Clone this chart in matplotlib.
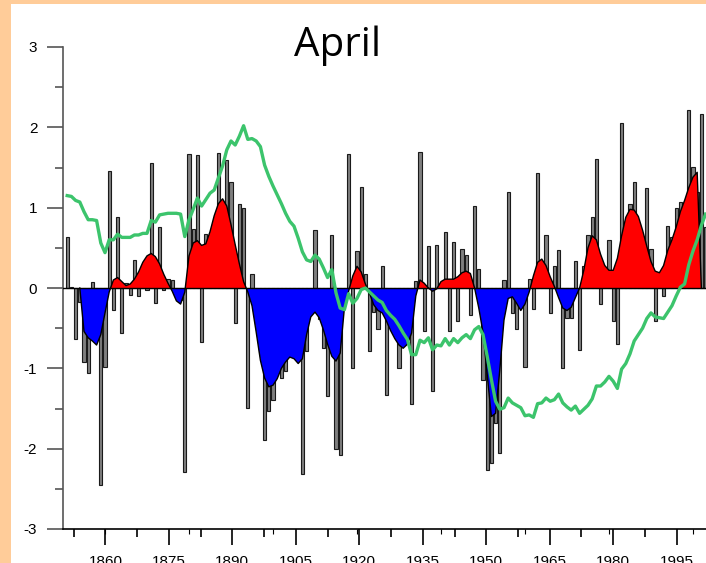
import matplotlib
matplotlib.use("Agg")
import matplotlib.pyplot as plt
from matplotlib.patches import Rectangle
from matplotlib.ticker import MultipleLocator, FixedLocator
import numpy as np

plt.rcParams['font.family'] = ['Liberation Sans', 'DejaVu Sans']
plt.rcParams['axes.unicode_minus'] = False

# --- April anomalies, one bar per year (1851-2003) ---
bar_years = np.arange(1851, 2004)
anomaly = [
    0.63, 0.01, -0.63, -0.17, -0.92, -1.06, 0.07, -0.45, -2.45, -0.98,   # 1851-1860
    1.46, -0.27, 0.88, -0.56, 0.06, -0.09, 0.35, -0.10, 0.20, -0.03,     # 1861-1870
    1.56, -0.19, 0.76, -0.03, 0.11, 0.10, -0.10, -0.15, -2.29, 1.67,     # 1871-1880
    0.73, 1.66, -0.67, 0.67, 0.40, 0.50, 1.68, 0.95, 1.59, 1.32,         # 1881-1890
    -0.44, 1.04, 1.00, -1.49, 0.17, -0.35, -0.80, -1.89, -1.53, -1.40,   # 1891-1900
    -1.00, -1.12, -1.03, -0.60, -0.85, -0.50, -2.31, -0.78, -0.30, 0.72, # 1901-1910
    -0.38, -0.75, -1.35, 0.66, -2.01, -2.08, -0.15, 1.67, -0.99, 0.46,   # 1911-1920
    1.26, 0.17, -0.78, -0.30, -0.51, 0.28, -1.33, -0.40, -0.50, -1.00,   # 1921-1930
    -0.55, -0.35, -1.44, 0.09, 1.69, -0.53, 0.52, -1.28, 0.53, 0.05,     # 1931-1940
    0.70, -0.54, 0.57, -0.41, 0.49, 0.41, -0.34, 1.02, 0.24, -1.15,      # 1941-1950
    -2.27, -2.18, -1.68, -2.06, 0.10, 1.20, -0.31, -0.51, -0.15, -0.98,  # 1951-1960
    0.11, -0.26, 1.43, 0.25, 0.66, -0.31, 0.28, 0.47, -0.99, -0.37,      # 1961-1970
    -0.37, 0.34, -0.77, 0.28, 0.66, 0.89, 1.60, -0.20, 0.15, 0.60,       # 1971-1980
    -0.41, -0.70, 2.05, 0.50, 1.05, 1.32, 0.80, 0.50, 1.24, 0.48,        # 1981-1990
    -0.41, 0.15, -0.10, 0.77, 0.64, 0.99, 1.07, 1.00, 2.22, 1.51,        # 1991-2000
    1.20, 2.17, 0.76,                                                    # 2001-2003
]

# --- low-pass filtered series (1854-2002) ---
smooth_years = np.arange(1854, 2003)
smoothed = np.array([
    0.00, -0.54, -0.62, -0.66, -0.71, -0.58, -0.31,                      # 1854-1860
    -0.05, 0.10, 0.13, 0.08, 0.03, 0.05, 0.11, 0.20, 0.32, 0.40,         # 1861-1870
    0.43, 0.39, 0.30, 0.17, 0.06, -0.04, -0.16, -0.20, -0.05, 0.40,      # 1871-1880
    0.56, 0.59, 0.53, 0.55, 0.70, 0.90, 1.05, 1.11, 1.02, 0.79,          # 1881-1890
    0.54, 0.30, 0.08, -0.05, -0.22, -0.55, -0.90, -1.12, -1.23, -1.21,   # 1891-1900
    -1.13, -1.00, -0.92, -0.86, -0.88, -0.94, -0.88, -0.58, -0.36, -0.30,# 1901-1910
    -0.37, -0.52, -0.70, -0.85, -0.91, -0.81, -0.25, -0.04, 0.15, 0.27,  # 1911-1920
    0.20, 0.05, -0.07, -0.21, -0.28, -0.31, -0.41, -0.53, -0.63, -0.71,  # 1921-1930
    -0.75, -0.70, -0.56, -0.10, 0.10, 0.06, 0.00, -0.04, -0.01, 0.08,    # 1931-1940
    0.11, 0.11, 0.11, 0.14, 0.19, 0.21, 0.18, 0.00, -0.25, -0.55,        # 1941-1950
    -1.08, -1.60, -1.56, -1.02, -0.40, -0.13, -0.11, -0.19, -0.28, -0.20,# 1951-1960
    -0.05, 0.15, 0.32, 0.36, 0.28, 0.14, 0.02, -0.12, -0.25, -0.28,      # 1961-1970
    -0.24, -0.12, 0.00, 0.22, 0.50, 0.65, 0.60, 0.42, 0.28, 0.22,        # 1971-1980
    0.22, 0.37, 0.65, 0.88, 0.98, 0.97, 0.89, 0.72, 0.52, 0.33,          # 1981-1990
    0.21, 0.19, 0.28, 0.47, 0.60, 0.76, 0.95, 1.09, 1.25, 1.38,          # 1991-2000
    1.44, 0.00,                                                          # 2001-2002
])

# --- cumulative index (green line), 1851-2003 ---
index_years = np.arange(1851, 2004)
index_vals = [
    1.15, 1.14, 1.09, 1.07, 0.95, 0.85, 0.85, 0.84, 0.56, 0.44,          # 1851-1860
    0.60, 0.60, 0.67, 0.63, 0.63, 0.63, 0.66, 0.66, 0.68, 0.68,          # 1861-1870
    0.84, 0.82, 0.91, 0.92, 0.93, 0.93, 0.93, 0.92, 0.64, 0.85,          # 1871-1880
    0.98, 1.12, 1.02, 1.10, 1.18, 1.22, 1.37, 1.52, 1.72, 1.83,          # 1881-1890
    1.78, 1.89, 2.02, 1.85, 1.86, 1.83, 1.76, 1.53, 1.39, 1.27,          # 1891-1900
    1.16, 1.05, 0.93, 0.83, 0.77, 0.62, 0.45, 0.35, 0.33, 0.41,          # 1901-1910
    0.36, 0.25, 0.13, 0.23, -0.06, -0.25, -0.27, -0.07, -0.19, -0.13,    # 1911-1920
    -0.02, 0.00, -0.05, -0.10, -0.15, -0.18, -0.28, -0.34, -0.39, -0.47, # 1921-1930
    -0.56, -0.64, -0.83, -0.83, -0.65, -0.68, -0.62, -0.77, -0.71, -0.72,# 1931-1940
    -0.63, -0.71, -0.63, -0.68, -0.62, -0.58, -0.63, -0.52, -0.48, -0.58,# 1941-1950
    -0.85, -1.14, -1.41, -1.51, -1.49, -1.37, -1.43, -1.46, -1.49, -1.59,# 1951-1960
    -1.58, -1.61, -1.44, -1.43, -1.37, -1.41, -1.39, -1.32, -1.43, -1.48,# 1961-1970
    -1.52, -1.47, -1.56, -1.51, -1.46, -1.38, -1.22, -1.22, -1.17, -1.10,# 1971-1980
    -1.16, -1.25, -1.01, -0.94, -0.82, -0.66, -0.58, -0.50, -0.38, -0.31,# 1981-1990
    -0.36, -0.37, -0.38, -0.30, -0.22, -0.10, 0.01, 0.05, 0.29, 0.46,    # 1991-2000
    0.60, 0.78, 0.92,                                                    # 2001-2003
]

tick_years = [1860, 1875, 1890, 1905, 1920, 1935, 1950, 1965, 1980, 1995]

# --- figure with peach frame and white panel ---
W, H = 706, 563
fig = plt.figure(figsize=(W / 100, H / 100), dpi=100)
fig.patch.set_facecolor('#FFCC99')
fig.add_artist(Rectangle((11 / W, 0), 1 - 11 / W, 1 - 4 / H,
                         transform=fig.transFigure, facecolor='white',
                         edgecolor='none', zorder=-10))

ax = fig.add_axes([63 / W, 34 / H, 1 - 63 / W, (529 - 47) / H])
ax.patch.set_alpha(0)

ax.bar(bar_years, anomaly, width=0.75, color='#7f7f7f',
       edgecolor='#1a1a1a', linewidth=0.8, zorder=1)

ax.fill_between(smooth_years, smoothed, 0, where=smoothed >= 0,
                interpolate=True, color='#FF0000', linewidth=0, zorder=2)
ax.fill_between(smooth_years, smoothed, 0, where=smoothed <= 0,
                interpolate=True, color='#0000FF', linewidth=0, zorder=2)
ax.plot(smooth_years, smoothed, color='black', linewidth=1.0, zorder=3)
ax.axhline(0, color='black', linewidth=1.0, zorder=3)

ax.plot(index_years, index_vals, color='#3cc46c', linewidth=2.4,
        solid_joinstyle='round', zorder=4)

ax.set_xlim(1850.0, 2003.1)
ax.set_ylim(-3, 3)

for side in ('top', 'right'):
    ax.spines[side].set_visible(False)
ax.spines['left'].set_color('#555555')
ax.spines['left'].set_linewidth(1.2)
ax.spines['bottom'].set_color('black')
ax.spines['bottom'].set_linewidth(1.2)

ax.yaxis.set_major_locator(MultipleLocator(1))
ax.yaxis.set_minor_locator(MultipleLocator(0.5))
ax.tick_params(axis='y', which='major', direction='out', length=11.5,
               width=1.2, color='#555555', pad=7, labelsize=11)
ax.tick_params(axis='y', which='minor', direction='out', length=5.8,
               width=1.2, color='#555555')
ax.tick_params(axis='x', which='both', bottom=False, labelbottom=False)

# year ticks on their own scale along the bottom
axt = ax.twiny()
axt.set_xlim(1849.98, 2001.92)
axt.xaxis.tick_bottom()
for side in ('top', 'right', 'left', 'bottom'):
    axt.spines[side].set_visible(False)
axt.xaxis.set_major_locator(FixedLocator(tick_years))
axt.xaxis.set_minor_locator(FixedLocator([y + 7.5 for y in [1845] + tick_years]))
axt.tick_params(axis='x', which='major', direction='out', length=11.5,
                width=1.2, color='black', pad=7, labelsize=11)
axt.tick_params(axis='x', which='minor', direction='out', length=5.8,
                width=1.2, color='black')

fig.text(337.5 / W, 1 - 56.5 / H, 'April', ha='center', va='baseline',
         fontsize=29, family=['Open Sans', 'DejaVu Sans'])

fig.savefig('out.png', dpi=100, facecolor=fig.get_facecolor())
